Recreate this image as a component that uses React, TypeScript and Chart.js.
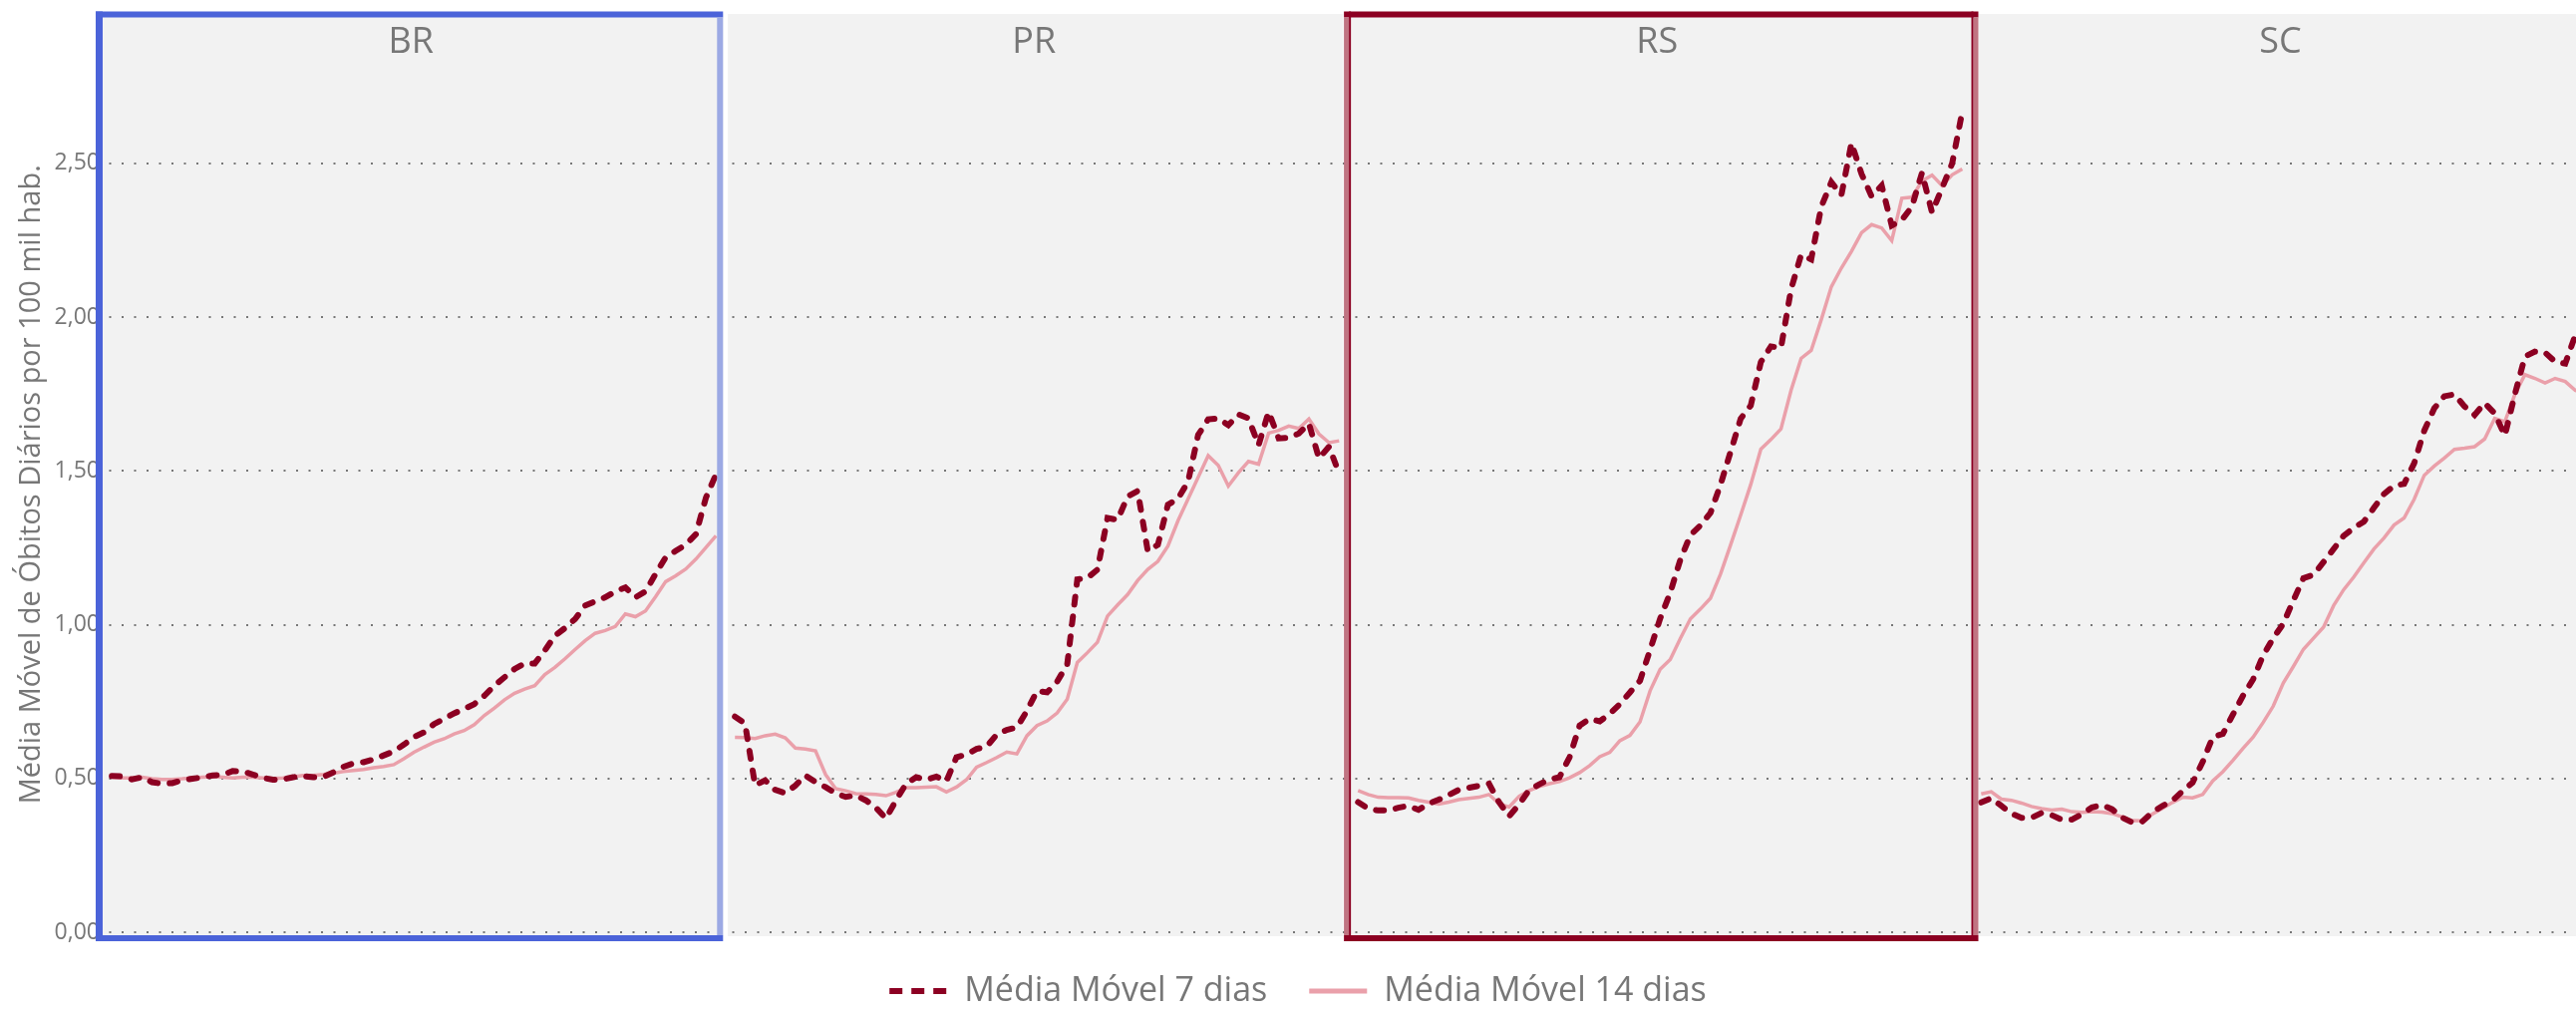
import { useEffect, useRef } from 'react';
import { Chart, registerables } from 'chart.js';

Chart.register(...registerables);

// ---- Data ----
const PANELS = ['BR', 'PR', 'RS', 'SC'];
const SERIES_LABELS = ['Média Móvel 7 dias', 'Média Móvel 14 dias'];
const Y_TITLE = 'Média Móvel de Óbitos Diários por 100 mil hab.   ';
const Y_TICKS = [0, 0.5, 1, 1.5, 2, 2.5];

const BR_7 = [0.508, 0.507, 0.497, 0.504, 0.488, 0.483, 0.485, 0.494, 0.499, 0.504, 0.51, 0.512, 0.524, 0.523, 0.513, 0.502, 0.496, 0.497, 0.504, 0.508, 0.504, 0.505, 0.52, 0.538, 0.549, 0.553, 0.562, 0.575, 0.588, 0.61, 0.635,
  0.65, 0.677, 0.694, 0.712, 0.726, 0.742, 0.769, 0.802, 0.829, 0.856, 0.874, 0.874, 0.916, 0.964, 0.989, 1.018, 1.062, 1.076, 1.089, 1.108, 1.121, 1.089, 1.108, 1.165, 1.219, 1.24, 1.26, 1.294, 1.413, 1.489];
const BR_14 = [0.504, 0.502, 0.502, 0.504, 0.499, 0.497, 0.497, 0.499, 0.502, 0.504, 0.506, 0.504, 0.502, 0.504, 0.504, 0.502, 0.5, 0.502, 0.506, 0.51, 0.51, 0.513, 0.517, 0.523, 0.526, 0.529, 0.535, 0.539, 0.545, 0.564, 0.585,
  0.602, 0.618, 0.629, 0.645, 0.656, 0.675, 0.705, 0.729, 0.756, 0.777, 0.791, 0.802, 0.838, 0.861, 0.889, 0.919, 0.948, 0.972, 0.981, 0.994, 1.035, 1.026, 1.045, 1.091, 1.14, 1.159, 1.181, 1.213, 1.251, 1.289];

const PR_7 = [0.701, 0.679, 0.478, 0.494, 0.463, 0.452, 0.477, 0.51, 0.488, 0.472, 0.452, 0.44, 0.445, 0.429, 0.405, 0.37, 0.429, 0.483, 0.504, 0.496, 0.506, 0.491, 0.569, 0.578, 0.596, 0.604, 0.643, 0.658, 0.666, 0.72, 0.785,
  0.78, 0.815, 0.871, 1.147, 1.152, 1.179, 1.347, 1.341, 1.417, 1.435, 1.239, 1.26, 1.39, 1.41, 1.465, 1.617, 1.668, 1.671, 1.649, 1.684, 1.671, 1.584, 1.692, 1.606, 1.608, 1.622, 1.654, 1.541, 1.579, 1.492];
const PR_14 = [0.634, 0.633, 0.63, 0.639, 0.644, 0.632, 0.599, 0.596, 0.59, 0.513, 0.467, 0.46, 0.451, 0.45, 0.448, 0.444, 0.455, 0.47, 0.47, 0.472, 0.473, 0.456, 0.472, 0.496, 0.537, 0.552, 0.568, 0.586, 0.58, 0.639, 0.672,
  0.687, 0.713, 0.758, 0.877, 0.909, 0.943, 1.028, 1.064, 1.098, 1.144, 1.18, 1.206, 1.256, 1.338, 1.409, 1.479, 1.55, 1.518, 1.451, 1.494, 1.531, 1.522, 1.623, 1.632, 1.646, 1.638, 1.669, 1.62, 1.592, 1.598];

const RS_7 = [0.423, 0.402, 0.396, 0.396, 0.405, 0.411, 0.398, 0.418, 0.431, 0.446, 0.463, 0.47, 0.476, 0.483, 0.423, 0.377, 0.416, 0.463, 0.481, 0.497, 0.504, 0.569, 0.672, 0.694, 0.686, 0.71, 0.742, 0.78, 0.818, 0.918, 1.02,
  1.104, 1.211, 1.291, 1.323, 1.364, 1.456, 1.563, 1.67, 1.713, 1.854, 1.905, 1.9, 2.091, 2.203, 2.188, 2.359, 2.439, 2.397, 2.566, 2.466, 2.393, 2.428, 2.298, 2.316, 2.359, 2.469, 2.341, 2.42, 2.5, 2.668];
const RS_14 = [0.461, 0.448, 0.439, 0.438, 0.438, 0.437, 0.429, 0.423, 0.417, 0.423, 0.431, 0.435, 0.439, 0.448, 0.418, 0.407, 0.442, 0.461, 0.474, 0.483, 0.49, 0.502, 0.519, 0.542, 0.571, 0.585, 0.623, 0.64, 0.684, 0.785, 0.855,
  0.887, 0.955, 1.019, 1.051, 1.086, 1.165, 1.26, 1.357, 1.456, 1.571, 1.602, 1.637, 1.762, 1.866, 1.892, 1.992, 2.099, 2.16, 2.214, 2.275, 2.301, 2.29, 2.249, 2.387, 2.39, 2.443, 2.462, 2.428, 2.463, 2.482];

const SC_7 = [0.422, 0.436, 0.411, 0.386, 0.372, 0.372, 0.388, 0.381, 0.366, 0.366, 0.384, 0.406, 0.414, 0.4, 0.373, 0.357, 0.36, 0.39, 0.411, 0.428, 0.459, 0.487, 0.554, 0.635, 0.645, 0.708, 0.769, 0.822, 0.9, 0.956, 1.003,
  1.079, 1.151, 1.162, 1.204, 1.246, 1.289, 1.315, 1.335, 1.38, 1.425, 1.452, 1.458, 1.525, 1.631, 1.704, 1.743, 1.749, 1.71, 1.682, 1.721, 1.687, 1.615, 1.749, 1.872, 1.888, 1.885, 1.855, 1.849, 1.941, 1.98];
const SC_14 = [0.45, 0.457, 0.433, 0.429, 0.42, 0.409, 0.402, 0.397, 0.4, 0.392, 0.39, 0.392, 0.391, 0.386, 0.375, 0.363, 0.362, 0.384, 0.403, 0.422, 0.439, 0.437, 0.448, 0.492, 0.522, 0.559, 0.598, 0.634, 0.682, 0.735, 0.81,
  0.864, 0.92, 0.956, 0.992, 1.062, 1.114, 1.155, 1.201, 1.246, 1.282, 1.324, 1.347, 1.408, 1.486, 1.516, 1.542, 1.57, 1.574, 1.579, 1.604, 1.671, 1.66, 1.749, 1.813, 1.801, 1.786, 1.801, 1.791, 1.762, 1.75];

const SERIES_7 = [BR_7, PR_7, RS_7, SC_7];
const SERIES_14 = [BR_14, PR_14, RS_14, SC_14];

// ---- Layout / style constants ----
const SPAN = 61.88; // index units between panel starts
const CELLS: [number, number][] = [[-1.6, 60.7], [-0.7, 60.4], [-1.4, 61.6], [-0.25, 62]];
const X_MIN = -1.5;
const X_MAX = 245.7;
const Y_MAX = 2.986;
const W = 2594;
const H = 1021;
const FONT = "'Open Sans', 'Noto Sans', sans-serif";
const GRAY_TEXT = '#777777';
const DARK_RED = '#8c0022';
const PINK = '#eaa0aa';

function buildSeries(arrs: number[][]) {
  const pts: { x: number; y: number | null }[] = [];
  arrs.forEach((arr, p) => {
    arr.forEach((v, j) => pts.push({ x: p * SPAN + j, y: v }));
    pts.push({ x: p * SPAN + arr.length, y: null });
  });
  return pts;
}

const panelPlugin = {
  id: 'panelPlugin',
  beforeDraw(chart: any) {
    const { ctx, chartArea, scales } = chart;
    const x = scales.x;
    ctx.save();
    ctx.fillStyle = '#f2f2f2';
    CELLS.forEach(([a, b], p) => {
      const l = x.getPixelForValue(p * SPAN + a);
      const r = x.getPixelForValue(p * SPAN + b);
      ctx.fillRect(l, chartArea.top, r - l, chartArea.bottom + 4 - chartArea.top);
    });
    ctx.restore();
  },
  afterDraw(chart: any) {
    const { ctx, chartArea, scales } = chart;
    const x = scales.x;
    const t = chartArea.top - 2.5;
    const b = chartArea.bottom + 9;
    const bw = 6;
    ctx.save();
    // BR border (blue)
    {
      const l = x.getPixelForValue(0 * SPAN + CELLS[0][0]);
      const r = x.getPixelForValue(0 * SPAN + CELLS[0][1]);
      ctx.fillStyle = '#4b63d9';
      ctx.fillRect(l, t, r - l, bw);
      ctx.fillRect(l, b - bw, r - l, bw);
      ctx.fillRect(l, t, bw + 1, b - t);
      ctx.fillStyle = '#9ca9e4';
      ctx.fillRect(r - bw, t + bw, bw, b - t - 2 * bw);
    }
    // RS border (dark red)
    {
      const l = x.getPixelForValue(2 * SPAN + CELLS[2][0]);
      const r = x.getPixelForValue(2 * SPAN + CELLS[2][1]);
      ctx.fillStyle = DARK_RED;
      ctx.fillRect(l, t, r - l, bw);
      ctx.fillRect(l, b - bw, r - l, bw);
      ctx.fillStyle = '#c07482';
      ctx.fillRect(l, t + bw, 5, b - t - 2 * bw);
      ctx.fillRect(r - 5, t + bw, 5, b - t - 2 * bw);
      ctx.fillStyle = DARK_RED;
      ctx.fillRect(l + 5, t, 2, b - t);
      ctx.fillRect(r - 7, t, 2, b - t);
    }
    // Panel titles
    ctx.fillStyle = GRAY_TEXT;
    ctx.font = `36px ${FONT}`;
    ctx.textAlign = 'center';
    ctx.textBaseline = 'alphabetic';
    PANELS.forEach((name, p) => {
      const cx = x.getPixelForValue(p * SPAN + 30) - 3;
      ctx.fillText(name, cx, chartArea.top + 39);
    });
    ctx.restore();
  },
};

export default function App() {
  const ref = useRef<HTMLCanvasElement>(null);

  useEffect(() => {
    if (!ref.current) return;
    const chart = new Chart(ref.current, {
      type: 'line',
      data: {
        datasets: [
          {
            label: SERIES_LABELS[0],
            data: buildSeries(SERIES_7) as any,
            borderColor: DARK_RED,
            backgroundColor: DARK_RED,
            borderWidth: 6,
            borderDash: [8, 12],
            borderCapStyle: 'round',
            pointRadius: 0,
            tension: 0,
            spanGaps: false,
          },
          {
            label: SERIES_LABELS[1],
            data: buildSeries(SERIES_14) as any,
            borderColor: PINK,
            backgroundColor: PINK,
            borderWidth: 3.5,
            pointRadius: 0,
            tension: 0,
            spanGaps: false,
          },
        ],
      },
      options: {
        responsive: false,
        animation: false,
        layout: { padding: { left: 10, top: 14, right: 0, bottom: 0 } },
        scales: {
          x: { type: 'linear', display: false, min: X_MIN, max: X_MAX },
          y: {
            min: 0,
            max: Y_MAX,
            afterFit: (scale: any) => { scale.width = 87; },
            afterBuildTicks: (scale: any) => { scale.ticks = Y_TICKS.map((v) => ({ value: v })); },
            ticks: {
              padding: -3,
              color: GRAY_TEXT,
              font: { family: FONT, size: 23, lineHeight: 1 },
              callback: (v: any) => Number(v).toFixed(2).replace('.', ','),
            },
            grid: { color: '#777777', lineWidth: 2, drawTicks: false, borderDash: [2, 10.5] } as any,
            border: { display: false, dash: [2, 10.5] },
            title: {
              display: true,
              text: Y_TITLE,
              color: GRAY_TEXT,
              font: { family: FONT, size: 29 },
              padding: { top: 4, bottom: 4 },
            },
          },
        },
        plugins: {
          tooltip: { enabled: false },
          legend: {
            position: 'bottom',
            labels: {
              color: GRAY_TEXT,
              font: { family: FONT, size: 34 },
              padding: 42,
              usePointStyle: true,
              pointStyle: 'line',
              pointStyleWidth: 58,
              generateLabels: (c: any) => {
                const items = (Chart.defaults.plugins.legend.labels as any).generateLabels(c);
                return items.map((it: any, i: number) => ({
                  ...it,
                  pointStyle: 'line',
                  lineWidth: i === 0 ? 6 : 5,
                  lineDash: i === 0 ? [13, 9] : [],
                  lineCap: 'butt',
                }));
              },
            },
          },
        },
      },
      plugins: [panelPlugin],
    } as any);
    return () => chart.destroy();
  }, []);

  return (
    <div style={{ position: 'fixed', left: 0, top: 0, width: '100vw', height: '100vh', overflow: 'hidden', background: '#ffffff' }}>
      <canvas ref={ref} width={W} height={H} style={{ display: 'block', width: W, height: H }} />
    </div>
  );
}
